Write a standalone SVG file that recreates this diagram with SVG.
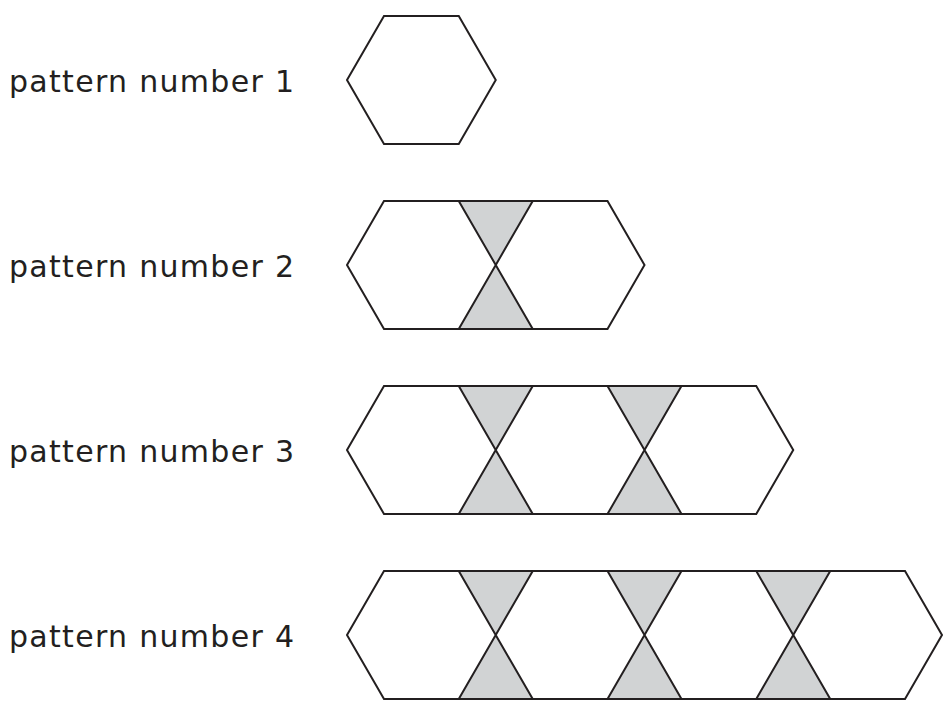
<svg xmlns="http://www.w3.org/2000/svg" width="948" height="709" viewBox="0 0 948 709">
<style>
.lbl{font-family:"DejaVu Sans","Liberation Sans",sans-serif;font-size:30px;letter-spacing:1.3px;fill:#231f20}
.sh{fill:#d1d3d4;stroke:none}
.ol{fill:none;stroke:#231f20;stroke-width:2;stroke-linejoin:miter}
</style>
<rect width="948" height="709" fill="#ffffff"/>
<g id="pattern1">
<text class="lbl" x="9" y="92">pattern number 1</text>
<polygon class="ol" points="347,80 384,16 458.75,16 495.75,80 458.75,144 384,144"/>
</g>
<g id="pattern2">
<text class="lbl" x="9" y="277">pattern number 2</text>
<polygon class="sh" points="458.75,201 532.75,201 495.75,265"/>
<polygon class="sh" points="458.75,329 532.75,329 495.75,265"/>
<polygon class="ol" points="347,265 384,201 607.5,201 644.5,265 607.5,329 384,329"/>
<path class="ol" d="M458.75,201 L532.75,329 M532.75,201 L458.75,329"/>
</g>
<g id="pattern3">
<text class="lbl" x="9" y="462">pattern number 3</text>
<polygon class="sh" points="458.75,386 532.75,386 495.75,450"/>
<polygon class="sh" points="458.75,514 532.75,514 495.75,450"/>
<polygon class="sh" points="607.5,386 681.5,386 644.5,450"/>
<polygon class="sh" points="607.5,514 681.5,514 644.5,450"/>
<polygon class="ol" points="347,450 384,386 756.25,386 793.25,450 756.25,514 384,514"/>
<path class="ol" d="M458.75,386 L532.75,514 M532.75,386 L458.75,514 M607.5,386 L681.5,514 M681.5,386 L607.5,514"/>
</g>
<g id="pattern4">
<text class="lbl" x="9" y="647">pattern number 4</text>
<polygon class="sh" points="458.75,571 532.75,571 495.75,635"/>
<polygon class="sh" points="458.75,699 532.75,699 495.75,635"/>
<polygon class="sh" points="607.5,571 681.5,571 644.5,635"/>
<polygon class="sh" points="607.5,699 681.5,699 644.5,635"/>
<polygon class="sh" points="756.25,571 830.25,571 793.25,635"/>
<polygon class="sh" points="756.25,699 830.25,699 793.25,635"/>
<polygon class="ol" points="347,635 384,571 905,571 942,635 905,699 384,699"/>
<path class="ol" d="M458.75,571 L532.75,699 M532.75,571 L458.75,699 M607.5,571 L681.5,699 M681.5,571 L607.5,699 M756.25,571 L830.25,699 M830.25,571 L756.25,699"/>
</g>
</svg>
